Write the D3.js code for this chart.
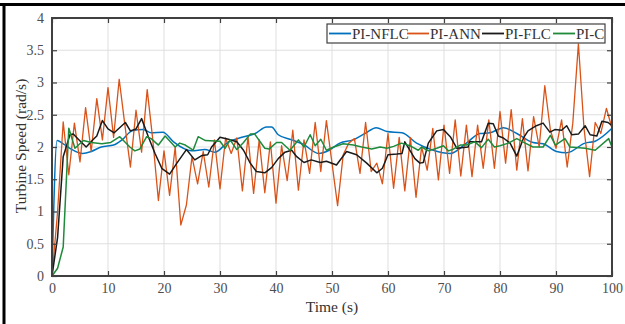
<!DOCTYPE html>
<html lang="en">
<head>
    <meta charset="UTF-8">
    <title>Turbine Speed</title>
    <script src="https://d3js.org/d3.v7.min.js"></script>
    <style>
        body {
            margin: 0;
            background: #fff;
            font-family: "Liberation Serif", "Times New Roman", serif;
        }
    </style>
</head>
<body>
    <div id="chart"></div>

    <script>
        // series names and colours (legend order)
        const seriesNames = ["PI-NFLC", "PI-ANN", "PI-FLC", "PI-C"];
        const seriesColors = ["#0072BD", "#D95319", "#1a1a1a", "#1f8a3b"];

        // axis ticks
        const xTicks = [0, 10, 20, 30, 40, 50, 60, 70, 80, 90, 100];
        const yTicks = [0, 0.5, 1, 1.5, 2, 2.5, 3, 3.5, 4];

        // PI-ANN: one sample per second, t = 0 .. 100 s
        const annStep = 1;
        const annValues = [
            0, 1.0, 2.39, 1.57, 2.37, 1.77, 2.61, 1.93, 2.75, 2.11,
            2.92, 2.15, 3.05, 2.35, 1.69, 2.57, 1.92, 2.89, 2.11, 1.17,
            1.94, 1.25, 2.0, 0.79, 1.1, 1.85, 1.43, 1.93, 1.38, 2.11,
            1.35, 2.14, 1.9, 2.14, 1.32, 2.16, 1.28, 2.11, 1.29, 2.08,
            1.13, 2.02, 1.48, 2.26, 1.33, 2.11, 1.59, 2.38, 1.62, 2.41,
            1.75, 1.09, 1.88, 2.06, 2.13, 1.59, 2.38, 1.62, 1.75, 1.43,
            2.21, 1.36, 2.15, 1.32, 2.15, 1.22, 2.0, 1.64, 2.29, 1.49,
            2.34, 1.59, 2.42, 1.55, 2.34, 1.54, 2.34, 1.67, 2.42, 1.67,
            2.55, 1.75, 2.58, 1.64, 2.44, 1.63, 2.47, 2.0, 2.95, 2.26,
            1.98, 2.42, 1.69, 2.37, 3.6, 2.29, 1.54, 2.38, 2.21, 2.6,
            2.29
        ];

        // PI-NFLC: [time, speed]
        const nflcData = [
            [0, 0], [0.9, 2.1], [2, 2.05], [3.2, 1.98], [5.5, 1.9], [7, 1.93],
            [8.8, 2.0], [11, 2.03], [12.5, 2.11], [14.3, 2.25], [16.3, 2.27],
            [17.7, 2.22], [19.8, 2.23], [21.7, 2.08], [24.9, 1.94], [27.3, 1.96],
            [29.1, 1.92], [31.5, 2.08], [33.9, 2.15], [36.3, 2.21], [38.3, 2.31],
            [39.2, 2.31], [40.4, 2.19], [42.8, 2.11], [44.9, 2.04], [47.6, 1.9],
            [49.5, 1.95], [51.4, 2.06], [53.8, 2.11], [55.9, 2.21], [57.9, 2.3],
            [59.8, 2.24], [62.5, 2.22], [65.1, 2.06], [68.1, 1.95], [71.1, 1.9],
            [74, 2.06], [76.4, 2.21], [78.2, 2.22], [80.6, 2.3], [83, 2.21],
            [85.9, 2.07], [87.7, 2.05], [90.1, 1.93], [91.9, 1.91], [95.2, 2.06],
            [97, 2.09], [100, 2.29]
        ];

        // PI-FLC: [time, speed]
        const flcData = [
            [0, 0], [1, 0.6], [2, 1.85], [3.2, 2.19], [3.8, 2.2], [4.7, 2.12],
            [6.1, 2.0], [7.4, 2.12], [8, 2.17], [9, 2.41], [10, 2.28], [11.1, 2.22],
            [13.1, 2.38], [14, 2.25], [15, 2.28], [16, 2.44], [17.2, 2.16],
            [18.4, 1.9], [19.6, 1.67], [21, 1.58], [22.3, 1.75], [24, 1.96],
            [25.5, 1.8], [26.8, 1.87], [27.8, 1.88], [28.5, 2.0], [30, 2.15],
            [31.5, 2.12], [33, 2.08], [34.2, 1.95], [35.4, 1.75], [36.5, 1.62],
            [38, 1.6], [39.2, 1.68], [40.4, 1.82], [41.6, 1.92], [42.8, 1.95],
            [43.7, 1.85], [45, 1.76], [46.3, 1.8], [47.9, 1.76], [49, 1.78],
            [50.8, 1.72], [52.6, 1.93], [54.4, 1.88], [56.2, 1.75], [58, 1.6],
            [59, 1.67], [60, 1.88], [61.6, 1.89], [62.5, 1.9], [63, 2.08],
            [63.7, 1.98], [64.8, 1.82], [65.7, 1.75], [66.3, 1.76], [67.2, 2.06],
            [68.7, 2.25], [69.9, 2.27], [71.2, 2.15], [72.3, 1.98], [74.3, 2.0],
            [74.6, 2.08], [76.7, 2.08], [77.9, 2.37], [78.8, 2.36], [79.7, 2.17],
            [80.6, 2.14], [81.8, 2.06], [83, 1.86], [84.2, 2.14], [85, 2.25],
            [86.5, 2.33], [87.7, 2.37], [88.9, 2.23], [89.8, 2.27], [91, 2.26],
            [91.9, 2.33], [92.8, 2.19], [94, 2.2], [95.2, 2.33], [96.1, 2.19],
            [97.3, 2.17], [98.2, 2.4], [99.3, 2.38], [100, 2.33]
        ];

        // PI-C: [time, speed]
        const pcData = [
            [0, 0], [1, 0.12], [2, 0.45], [3, 2.29], [4.1, 1.98], [5.6, 2.1],
            [7, 2.07], [8.9, 2.05], [10.5, 2.07], [12.1, 2.16], [13.9, 2.0],
            [14.8, 1.94], [15.7, 1.97], [16.9, 2.16], [17.7, 2.13], [19, 2.03],
            [20.2, 2.17], [22, 2.0], [22.8, 2.06], [23.8, 2.03], [25.2, 1.95],
            [26.1, 2.16], [27.4, 2.1], [30, 2.09], [30.9, 1.98], [31.8, 2.11],
            [33, 1.96], [34.2, 2.07], [35.4, 2.2], [36.2, 2.2], [38, 1.98],
            [38.8, 1.97], [40.1, 2.07], [41, 2.07], [42.5, 1.95], [44, 2.11],
            [45, 2.0], [46.1, 2.19], [47, 2.02], [48, 2.12], [49, 1.95],
            [50.3, 2.0], [52, 2.05], [53.8, 2.03], [55.3, 2.0], [57.1, 1.97],
            [58.6, 2.0], [59.8, 1.98], [61, 2.01], [62.4, 2.06], [63.9, 2.02],
            [65.4, 1.95], [66, 2.0], [67.2, 1.94], [68.7, 1.98], [69.9, 2.02],
            [70.8, 1.94], [71.5, 1.96], [72.9, 2.03], [74, 2.03], [75.5, 2.08],
            [76.7, 1.99], [77.9, 2.12], [79, 2.0], [80, 2.02], [81.5, 2.06],
            [83, 2.13], [84.5, 2.06], [85.9, 2.0], [87.7, 2.0], [89, 2.18],
            [89.9, 2.03], [91.6, 2.13], [92.5, 2.0], [95.2, 1.98], [97, 1.95],
            [99.4, 2.13], [100, 2.0]
        ];

        const width = 625;
        const height = 324;
        const margin = { top: 18, right: 13, bottom: 48, left: 52 };
        const axisColor = "#404040";
        const serif = "'Liberation Serif', 'Times New Roman', serif";

        const svg = d3.select("#chart")
            .append("svg")
            .attr("width", width)
            .attr("height", height);

        // figure frame (only top and left edges are visible)
        svg.append("line")
            .attr("x1", 0).attr("x2", width)
            .attr("y1", 4.5).attr("y2", 4.5)
            .attr("stroke", "#000").attr("stroke-width", 3);
        svg.append("line")
            .attr("x1", 4).attr("x2", 4)
            .attr("y1", 3).attr("y2", height)
            .attr("stroke", "#000").attr("stroke-width", 3);

        const x = d3.scaleLinear()
            .domain([0, 100])
            .range([margin.left, width - margin.right]);

        const y = d3.scaleLinear()
            .domain([0, 4])
            .range([height - margin.bottom, margin.top]);

        // grid
        svg.append("g")
            .selectAll("line")
            .data(xTicks)
            .join("line")
            .attr("x1", d => x(d)).attr("x2", d => x(d))
            .attr("y1", y(0)).attr("y2", y(4))
            .attr("stroke", "#dfdfdf");
        svg.append("g")
            .selectAll("line")
            .data(yTicks)
            .join("line")
            .attr("x1", x(0)).attr("x2", x(100))
            .attr("y1", d => y(d)).attr("y2", d => y(d))
            .attr("stroke", "#dfdfdf");

        // series
        const straight = d3.line()
            .x(d => x(d[0]))
            .y(d => y(d[1]));
        const smooth = d3.line()
            .x(d => x(d[0]))
            .y(d => y(d[1]))
            .curve(d3.curveMonotoneX);

        const annData = annValues.map((v, i) => [i * annStep, v]);
        const allSeries = [nflcData, annData, flcData, pcData];

        svg.append("g")
            .selectAll("path")
            .data(allSeries)
            .join("path")
            .attr("fill", "none")
            .attr("stroke", (d, i) => seriesColors[i])
            .attr("stroke-width", (d, i) => i === 1 ? 1.3 : 1.5)
            .attr("stroke-linejoin", "round")
            .attr("d", (d, i) => i === 0 ? smooth(d) : straight(d));

        // axes, inward ticks on all four sides
        const tickLen = 5;
        const fmt = d => String(d);

        const gx = svg.append("g")
            .attr("transform", `translate(0,${y(0)})`)
            .call(d3.axisBottom(x).tickValues(xTicks).tickSize(-tickLen).tickPadding(7).tickFormat(fmt));
        const gxTop = svg.append("g")
            .attr("transform", `translate(0,${y(4)})`)
            .call(d3.axisTop(x).tickValues(xTicks).tickSize(-tickLen).tickFormat(""));
        const gy = svg.append("g")
            .attr("transform", `translate(${x(0)},0)`)
            .call(d3.axisLeft(y).tickValues(yTicks).tickSize(-tickLen).tickPadding(8).tickFormat(fmt));
        const gyRight = svg.append("g")
            .attr("transform", `translate(${x(100)},0)`)
            .call(d3.axisRight(y).tickValues(yTicks).tickSize(-tickLen).tickFormat(""));

        [gx, gxTop, gy, gyRight].forEach(g => {
            g.select(".domain").remove();
            g.selectAll(".tick line").attr("stroke", axisColor).attr("stroke-width", 1.2);
            g.selectAll("text")
                .attr("fill", "#4d4d4d")
                .style("font-family", serif)
                .style("font-size", "14px");
        });

        // axes box
        svg.append("rect")
            .attr("x", x(0)).attr("y", y(4))
            .attr("width", x(100) - x(0))
            .attr("height", y(0) - y(4))
            .attr("fill", "none")
            .attr("stroke", axisColor)
            .attr("stroke-width", 2);

        // axis labels
        svg.append("text")
            .attr("x", (x(0) + x(100)) / 2)
            .attr("y", 312)
            .attr("text-anchor", "middle")
            .attr("fill", "#333")
            .style("font-size", "15.5px")
            .text("Time (s)");

        svg.append("text")
            .attr("transform", `translate(26,${(y(0) + y(4)) / 2 - 1}) rotate(-90)`)
            .attr("text-anchor", "middle")
            .attr("fill", "#333")
            .style("font-size", "15.5px")
            .text("Turbine Speed (rad/s)");

        // legend
        const legendX = 327;
        const legendY = 24;
        const legendW = 278;
        const itemOffsets = [0, 78, 153, 224];

        const legend = svg.append("g");
        legend.append("rect")
            .attr("x", legendX).attr("y", legendY)
            .attr("width", legendW).attr("height", 19)
            .attr("fill", "#fff")
            .attr("stroke", axisColor)
            .attr("stroke-width", 1.2);

        const items = legend.selectAll("g.item")
            .data(seriesNames)
            .join("g")
            .attr("class", "item")
            .attr("transform", (d, i) => `translate(${legendX + 2 + itemOffsets[i]},${legendY + 9.5})`);

        items.append("line")
            .attr("x1", 0).attr("x2", 22)
            .attr("stroke", (d, i) => seriesColors[i])
            .attr("stroke-width", 1.8);

        items.append("text")
            .attr("x", 23)
            .attr("y", 5)
            .attr("fill", "#333")
            .style("font-size", "15px")
            .text(d => d);
    </script>
</body>
</html>
